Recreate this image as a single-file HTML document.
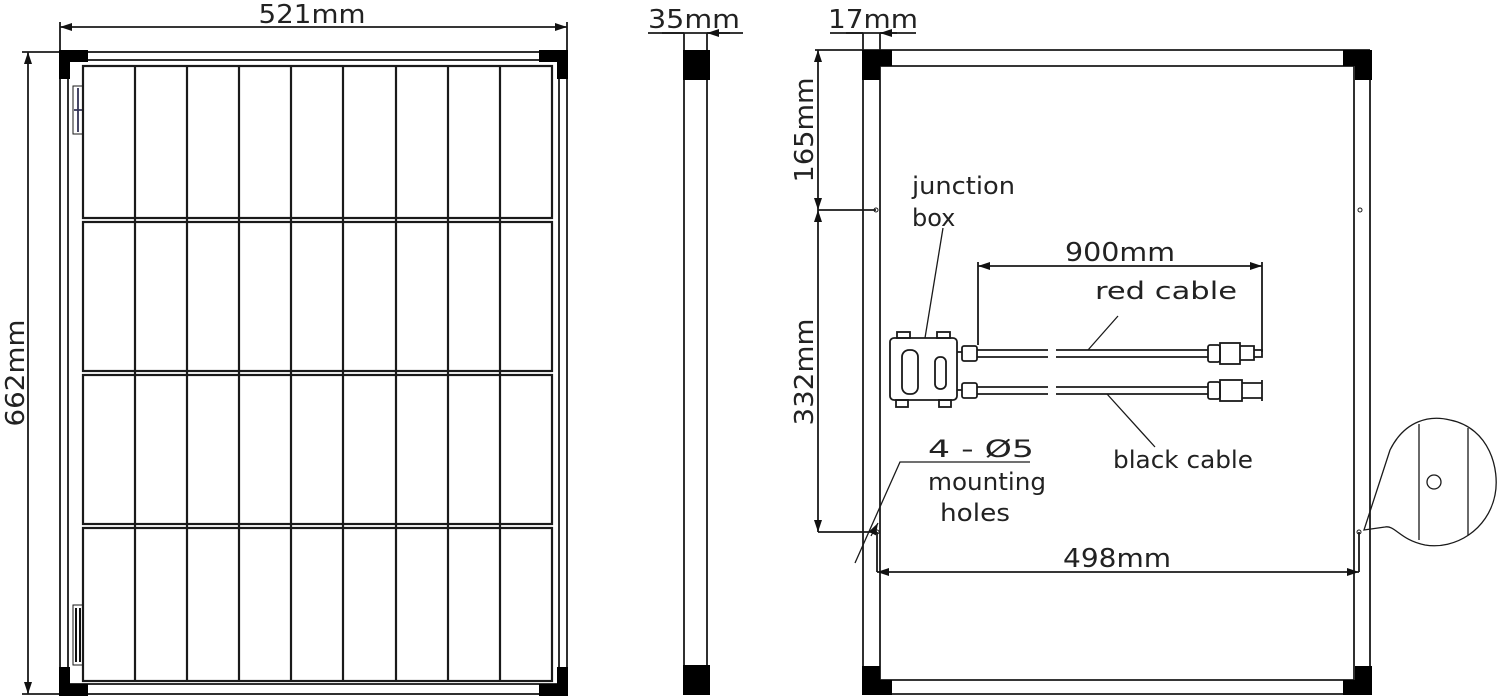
<!DOCTYPE html>
<html><head><style>body{margin:0;background:#fff}svg{display:block}text{font-family:"DejaVu Sans","Liberation Sans",sans-serif;fill:#222}</style></head><body>
<svg width="1500" height="700" viewBox="0 0 1500 700" xmlns="http://www.w3.org/2000/svg">
<defs><marker id="a" viewBox="0 0 12 8" refX="12" refY="4" markerWidth="12" markerHeight="8" orient="auto-start-reverse" markerUnits="userSpaceOnUse"><path d="M0,0L12,4L0,8z" fill="#111"/></marker></defs>
<g stroke="#1a1a1a" stroke-width="1.8" fill="none">
<rect x="60" y="52" width="507" height="642"/>
<rect x="68" y="60" width="491" height="624"/>
<g stroke-width="2.2">
<rect x="83" y="66" width="469" height="152"/>
<rect x="83" y="222" width="469" height="149"/>
<rect x="83" y="375" width="469" height="149"/>
<rect x="83" y="528" width="469" height="153"/>
<path d="M135,66V681M187,66V681M239,66V681M291,66V681M343,66V681M396,66V681M448,66V681M500,66V681"/>
</g>
<rect x="73" y="86" width="10" height="48" stroke-width="1"/>
<path d="M78,88V132M74,110H82" stroke="#335"/>
<rect x="73" y="605" width="10" height="60" stroke-width="1"/>
<path d="M76,608V662M80,608V662" stroke-width="2" stroke="#111"/>
<path d="M60,27H567" marker-start="url(#a)" marker-end="url(#a)"/>
<path d="M60,22V52M567,22V52"/>
<path d="M28,52V694" marker-start="url(#a)" marker-end="url(#a)"/>
<path d="M22,52H60M22,694H60"/>
<path d="M684,33V694M707,33V694"/>
<path d="M648,33H743"/>
<path d="M662,33H684M730,33H707" marker-end="url(#a)"/>
<path d="M863,33V694M880,33V680M1354,66V680M1370,50V694M863,50H1370M880,66H1354M880,680H1354M863,694H1370"/>
<path d="M830,33H916"/>
<path d="M846,33H863M897,33H880" marker-end="url(#a)"/>
<path d="M815,50H863M818,210H876M818,532H877"/>
<path d="M818,50V210" marker-start="url(#a)" marker-end="url(#a)"/>
<path d="M818,210V532" marker-start="url(#a)" marker-end="url(#a)"/>
<circle cx="876" cy="210" r="2" stroke-width="1"/><circle cx="1360" cy="210" r="2" stroke-width="1"/>
<circle cx="877" cy="532" r="2" stroke-width="1"/><circle cx="1359" cy="532" r="2" stroke-width="1"/>
<path d="M877,532V572M1359,532V572"/>
<path d="M877,572H1359" marker-start="url(#a)" marker-end="url(#a)"/>
<path d="M855,563L900,462H1030" stroke-width="1.3"/>
<path d="M871,536L878,523" marker-end="url(#a)" stroke-width="1.3"/>
<rect x="890" y="338" width="67" height="62" rx="4"/>
<rect x="902" y="350" width="16" height="44" rx="7"/>
<rect x="935" y="357" width="11" height="32" rx="5"/>
<rect x="897" y="332" width="13" height="6"/><rect x="937" y="332" width="13" height="6"/>
<rect x="896" y="400" width="12" height="7"/><rect x="939" y="400" width="12" height="7"/>
<rect x="962" y="346" width="15" height="15" rx="2"/><rect x="962" y="383" width="15" height="15" rx="2"/>
<path d="M957,352H962M957,390H962"/>
<path d="M977,350H1048M977,357H1048M1056,350H1208M1056,357H1208"/>
<path d="M977,387H1048M977,394H1048M1056,387H1208M1056,394H1208"/>
<rect x="1208" y="345" width="12" height="17" rx="2"/><rect x="1220" y="343" width="20" height="21"/><path d="M1240,346H1254V360H1240M1254,350H1262V357H1254"/>
<rect x="1208" y="382" width="12" height="17" rx="2"/><rect x="1220" y="380" width="22" height="21"/><path d="M1242,383H1262M1242,398H1262M1262,380V401"/>
<path d="M978,262V345M1262,262V352"/>
<path d="M978,266H1262" marker-start="url(#a)" marker-end="url(#a)"/>
<path d="M1118,316L1088,350M1107,394L1155,447M943,228L925,338" stroke-width="1.3"/>
<path d="M1364,530 L1390,450 C1405,420 1430,415 1450,420 C1490,428 1500,470 1495,495 C1488,530 1455,550 1425,545 C1400,540 1395,525 1385,527 Z" stroke-width="1.3"/>
<path d="M1419,424V540M1468,428V535" stroke-width="1.3"/>
<circle cx="1434" cy="482" r="7" stroke-width="1.3"/>
</g>
<g fill="#000">
<path d="M59,50H88V62H70V79H59Z"/><path d="M568,50H539V62H557V79H568Z"/>
<path d="M59,696H88V684H70V667H59Z"/><path d="M568,696H539V684H557V667H568Z"/>
<rect x="683" y="50" width="27" height="30"/><rect x="683" y="665" width="27" height="30"/>
<path d="M862,50H892V66H880V80H862Z"/><path d="M1372,50H1343V66H1355V80H1372Z"/>
<path d="M862,695H892V680H880V666H862Z"/><path d="M1372,695H1343V680H1355V666H1372Z"/>
</g>
<g font-size="26">
<text x="312" y="23" text-anchor="middle" textLength="107" lengthAdjust="spacingAndGlyphs">521mm</text>
<text transform="translate(24,373) rotate(-90)" text-anchor="middle" textLength="107" lengthAdjust="spacingAndGlyphs">662mm</text>
<text x="694" y="28" text-anchor="middle" textLength="92" lengthAdjust="spacingAndGlyphs">35mm</text>
<text x="873" y="28" text-anchor="middle" textLength="90" lengthAdjust="spacingAndGlyphs">17mm</text>
<text transform="translate(813,130) rotate(-90)" text-anchor="middle" textLength="105" lengthAdjust="spacingAndGlyphs">165mm</text>
<text transform="translate(813,372) rotate(-90)" text-anchor="middle" textLength="107" lengthAdjust="spacingAndGlyphs">332mm</text>
<text x="1120" y="261" text-anchor="middle" textLength="110" lengthAdjust="spacingAndGlyphs">900mm</text>
<text x="1117" y="567" text-anchor="middle" textLength="108" lengthAdjust="spacingAndGlyphs">498mm</text>
</g>
<g font-size="24">
<text x="912" y="194" textLength="103" lengthAdjust="spacingAndGlyphs">junction</text>
<text x="912" y="226">box</text>
<text x="1166" y="299" text-anchor="middle" textLength="142" lengthAdjust="spacingAndGlyphs">red cable</text>
<text x="1183" y="468" text-anchor="middle" textLength="140" lengthAdjust="spacingAndGlyphs">black cable</text>
<text x="981" y="457" text-anchor="middle" textLength="106" lengthAdjust="spacingAndGlyphs">4 - Ø5</text>
<text x="987" y="490" text-anchor="middle" textLength="118" lengthAdjust="spacingAndGlyphs">mounting</text>
<text x="975" y="521" text-anchor="middle" textLength="70" lengthAdjust="spacingAndGlyphs">holes</text>
</g>
</svg>
</body></html>
